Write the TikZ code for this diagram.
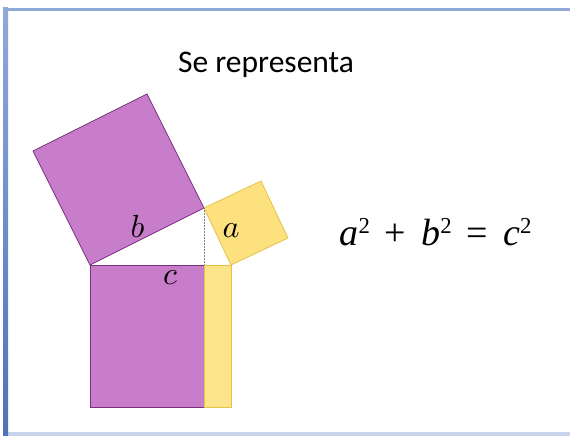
\documentclass[tikz,border=0pt]{standalone}
\usepackage{graphicx}
\usepackage{fontspec}
\setmainfont{Carlito}
\newfontfamily\eqfont{Liberation Serif}
\usetikzlibrary{positioning, calc}
\definecolor{frm}{HTML}{8FA9D9}
\definecolor{frmdk}{HTML}{4F72B8}
\definecolor{pur}{HTML}{C87DCB}
\definecolor{purdk}{HTML}{7A2F82}
\definecolor{yel}{HTML}{FCE17E}
\definecolor{yeldk}{HTML}{E3C24A}
\newcommand{\gap}{\hspace{15pt}}
\newcommand{\sq}{\raisebox{12pt}{\scalebox{0.6}{2}}}
\newcommand{\sidelbl}[1]{\scalebox{3.2}{$#1$}}
\tikzset{
  sqb/.style   = {fill=pur, draw=purdk, line width=0.8pt, line join=miter},
  sqa/.style   = {fill=yel, draw=yeldk, line width=0.8pt, line join=miter},
  side/.style  = {inner sep=0pt, anchor=base},
  ttl/.style   = {font=\fontsize{31.5}{34}\selectfont, inner sep=0pt, anchor=base},
  eqn/.style   = {font=\eqfont\fontsize{38}{40}\selectfont, inner sep=0pt, anchor=base},
}

\begin{document}
\begin{tikzpicture}[x=1pt, y=-1pt]

  \useasboundingbox (0,0) rectangle (570,436);

  % slide frame
  \fill[frm] (3,8) rectangle (570,11);
  \fill[frm!50] (8,432) rectangle (570,436);
  \shade[top color=frm, bottom color=frmdk] (3,8) rectangle (8,436);

  % triangle corners
  \coordinate (A) at (90,265);
  \coordinate (B) at (231,265);
  \coordinate (C) at (204,208);
  \coordinate (H) at (204,265);

  % square on b
  \draw[sqb] (A) -- (C) -- ($(C)+(-57,-114)$) -- ($(A)+(-57,-114)$) -- cycle;
  % square on a
  \draw[sqa] (C) -- (B) -- ($(B)+(57,-27)$) -- ($(C)+(57,-27)$) -- cycle;
  % square on c, split at the foot of the height
  \draw[sqb] (A) rectangle ($(H)+(0,142)$);
  \draw[sqa, fill=yel!90] (H) rectangle ($(B)+(0,142)$);
  \draw[purdk, line width=0.8pt] (A) -- (H);

  % height
  \draw[gray, densely dotted, line width=0.5pt] (C) -- (H);

  \node[side] (lb) at (137.5,237) {\sidelbl{b}};
  \node[side] (la) at (231,237) {\sidelbl{a}};
  \node[side] (lc) at (170,284) {\sidelbl{c}};

  \node[ttl] (title) at (266,73) {Se representa};

  \node[eqn] (eq) at (435.5,245)
    {\textit{a}\sq\gap+\gap\textit{b}\sq\gap=\gap\textit{c}\sq};

\end{tikzpicture}
\end{document}
